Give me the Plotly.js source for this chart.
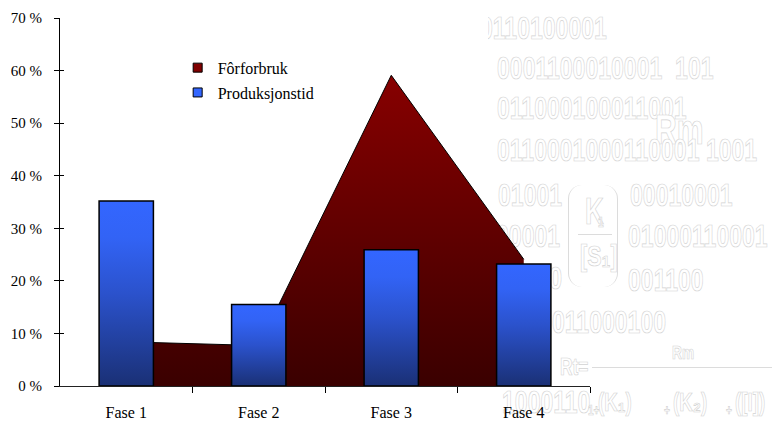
<!DOCTYPE html>
<html>
<head>
<meta charset="utf-8">
<script src="https://cdn.plot.ly/plotly-3.0.1.min.js"></script>
<style>
  html, body { margin:0; padding:0; background:#fff; }
  #wrap { position:relative; width:772px; height:423px; overflow:hidden; }
  #wm { position:absolute; left:488px; top:0; width:284px; height:423px; overflow:hidden; z-index:0; }
  #wm div.t { position:absolute; white-space:pre; font-family:"Liberation Sans", Arial, sans-serif; font-weight:bold;
            color:#fff; -webkit-text-stroke:0.7px #d2d2d2; transform:scaleX(0.72); transform-origin:0 50%; line-height:1; }
  #wm div.g { position:absolute; }
  #chart { position:absolute; left:0; top:0; z-index:1; }
</style>
</head>
<body>
<div id="wrap">
  <div id="wm"></div>
  <div id="chart"></div>
</div>
<script>
// ---- data ----
const categories = ["Fase 1", "Fase 2", "Fase 3", "Fase 4"];
const forforbruk = [8.4, 7.7, 59.1, 24.1];      // % (area)
const produksjonstid = [35.2, 15.5, 25.9, 23.2]; // % (bars)
const yTicks = [0, 10, 20, 30, 40, 50, 60, 70];
const yTickText = yTicks.map(v => v + " %");

// ---- decorative watermark text (background picture behind the chart) ----
const wmRows = [
  {t:"0110100001", x:-8, y:28, s:32},
  {t:"0001100010001  101", x:9, y:68, s:32},
  {t:"011000100011001", x:9, y:108, s:32},
  {t:"Rm", x:167, y:130, s:42},
  {t:"0110001000110001 1001", x:9, y:150, s:32},
  {t:"01001", x:10, y:195, s:32},
  {t:"00010001", x:142, y:195, s:32},
  {t:"K", x:97, y:212, s:36},
  {t:"1", x:110, y:222, s:14},
  {t:"[S\u2081]", x:92, y:256, s:30},
  {t:"00001", x:8, y:236, s:32},
  {t:"01000110001", x:140, y:236, s:32},
  {t:"00000", x:10, y:278, s:32},
  {t:"001100", x:140, y:280, s:32},
  {t:"011000100", x:64, y:322, s:32},
  {t:"Rm", x:184, y:352, s:19},
  {t:"Rt=", x:72, y:367, s:24},
  {t:"1000110", x:14, y:402, s:32},
  {t:"1+", x:100, y:410, s:14},
  {t:"(K\u2081)", x:110, y:402, s:26},
  {t:"+", x:176, y:410, s:14},
  {t:"(K\u2082)", x:185, y:402, s:26},
  {t:"+", x:238, y:410, s:14},
  {t:"([I])", x:247, y:402, s:26}
];
const wm = document.getElementById('wm');
wmRows.forEach(r => {
  const d = document.createElement('div');
  d.className = 't';
  d.textContent = r.t;
  d.style.left = r.x + 'px';
  d.style.top = (r.y - r.s * 0.5) + 'px';
  d.style.fontSize = r.s + 'px';
  wm.appendChild(d);
});
function deco(css) { const d = document.createElement('div'); d.className = 'g'; d.style.cssText = css; wm.appendChild(d); }
deco('left:104px;top:367px;width:182px;height:0;border-top:1.5px solid #dcdcdc;');
deco('left:90px;top:234px;width:34px;height:0;border-top:1.5px solid #dcdcdc;');
deco('left:80px;top:185px;width:48px;height:102px;border-left:1.5px solid #dcdcdc;border-right:1.5px solid #dcdcdc;border-radius:14px;');

// ---- traces ----
const fontFam = '"Liberation Serif", "Times New Roman", serif';
const traces = [];

traces.push({
  type: 'scatter', mode: 'lines',
  x: categories.map((c, i) => i), y: forforbruk,
  fill: 'tozeroy',
  line: {color: '#000', width: 1},
  fillgradient: {type: 'vertical', colorscale: [[0, '#3a0000'], [1, '#870000']]},
  showlegend: false, hoverinfo: 'skip'
});

const half = 0.205;
produksjonstid.forEach((v, i) => {
  traces.push({
    type: 'scatter', mode: 'lines',
    x: [i - half, i - half, i + half, i + half, i - half],
    y: [0, v, v, 0, 0],
    fill: 'toself',
    line: {color: '#000', width: 1.5},
    fillgradient: {type: 'vertical', colorscale: [[0, '#1a3075'], [0.5, '#2b52cc'], [0.8, '#3263f5'], [1, '#3366ff']]},
    showlegend: false, hoverinfo: 'skip'
  });
});

// legend entries
traces.push({type:'scatter', mode:'markers', x:[null], y:[null], name:'Fôrforbruk', legendgroup:'a',
  marker:{symbol:'square', size:9, color:'#800000', line:{color:'#000', width:1}}});
traces.push({type:'scatter', mode:'markers', x:[null], y:[null], name:'Produksjonstid', legendgroup:'b',
  marker:{symbol:'square', size:9, color:'#3366ff', line:{color:'#000', width:1}}});

// helper trace carrying the overlay axes (crossing tick marks)
traces.push({type:'scatter', mode:'markers', x:[null], y:[null], xaxis:'x2', yaxis:'y2', showlegend:false, hoverinfo:'skip'});

const boundaries = [0.5, 1.5, 2.5, 3.5];

const layout = {
  width: 772, height: 423,
  margin: {l: 60, r: 182, t: 18, b: 37},
  paper_bgcolor: 'rgba(0,0,0,0)',
  plot_bgcolor: 'rgba(0,0,0,0)',
  font: {family: fontFam, size: 16, color: '#000'},
  showlegend: true,
  legend: {x: 0.222, y: 0.911, xanchor: 'left', yanchor: 'top', bgcolor: 'rgba(0,0,0,0)',
           font: {family: fontFam, size: 16, color: '#000'}, tracegroupgap: 1},
  xaxis: {
    range: [-0.5, 3.5], tickmode: 'array',
    tickvals: categories.map((c, i) => i), ticktext: categories,
    ticks: 'outside', ticklen: 0, tickcolor: 'rgba(0,0,0,0)',
    showline: true, linecolor: '#222', linewidth: 1,
    showgrid: false, zeroline: false, fixedrange: true,
    tickfont: {family: fontFam, size: 16, color: '#000'}, ticklabelstandoff: 12
  },
  xaxis2: {
    overlaying: 'x', anchor: 'y', range: [-0.5, 3.5], tickmode: 'array', tickvals: boundaries,
    ticks: 'outside', ticklen: 6, tickcolor: '#000', showticklabels: false,
    showgrid: false, zeroline: false, showline: false
  },
  yaxis: {
    range: [0, 70], tickmode: 'array', tickvals: yTicks, ticktext: yTickText,
    ticks: 'outside', ticklen: 5, tickcolor: '#000',
    showline: true, linecolor: '#000', linewidth: 1,
    showgrid: false, zeroline: false, fixedrange: true,
    tickfont: {family: fontFam, size: 15, color: '#000'}, ticklabelstandoff: 9
  },
  yaxis2: {
    overlaying: 'y', anchor: 'x', range: [0, 70], tickmode: 'array', tickvals: yTicks,
    ticks: 'inside', ticklen: 4, tickcolor: '#000', showticklabels: false,
    showgrid: false, zeroline: false, showline: false, side: 'left'
  }
};

Plotly.newPlot('chart', traces, layout, {displayModeBar: false, staticPlot: true});
</script>
</body>
</html>
